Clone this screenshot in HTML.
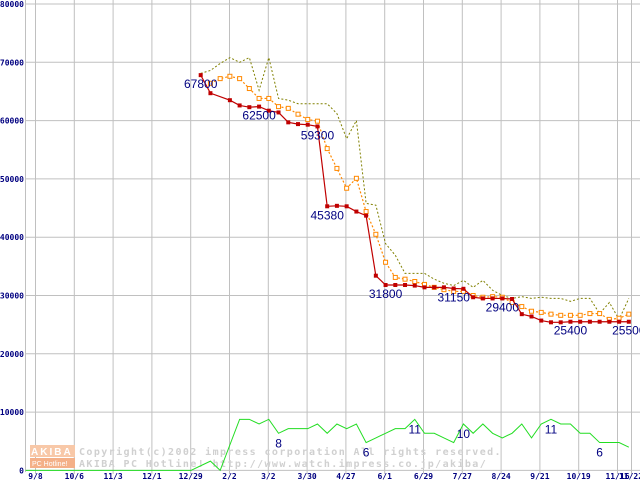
<!DOCTYPE html>
<html><head><meta charset="utf-8"><style>
html,body{margin:0;padding:0;background:#fff;}
svg{display:block;}
.tk{font-family:"DejaVu Sans Mono","Liberation Mono",monospace;font-size:8px;font-weight:bold;fill:#000080;}
.dl{font-family:"Liberation Sans",sans-serif;font-size:12px;fill:#000080;}
.wm{font-family:"DejaVu Sans Mono","Liberation Mono",monospace;font-size:10px;font-weight:bold;fill:#d0d0d0;letter-spacing:1.4px;}
</style></head><body>
<svg id="chart" width="640" height="480" xmlns="http://www.w3.org/2000/svg">
<g id="grid"></g>
<g id="wm">
<rect x="30" y="445" width="45" height="12" fill="#f8c8a8"/>
<text x="31" y="455" font-family="Liberation Sans,sans-serif" font-size="10" font-weight="bold" fill="#fff" letter-spacing="2">AKIBA</text>
<rect x="30" y="458" width="45" height="10" fill="#f4b088"/>
<text x="32" y="466" font-family="Liberation Sans,sans-serif" font-size="7" fill="#fff">PC Hotline!</text>
<text class="wm" x="79" y="455">Copyright(c)2002 impress corporation All rights reserved.</text>
<text class="wm" x="79" y="467">AKIBA PC Hotline! http://www.watch.impress.co.jp/akiba/</text>
</g>
<g id="series"></g>
<g id="labels"></g>
</svg>
<script>
const yTicks=[0,10000,20000,30000,40000,50000,60000,70000,80000];
const xTickLabels=["9/8","10/6","11/3","12/1","12/29","2/2","3/2","3/30","4/27","6/1","6/29","7/27","8/24","9/21","10/19","11/16"];
const lowestPrice=[67800,64700,null,63500,62600,62300,62400,61700,61400,59700,59400,59300,59000,45300,45380,45300,44400,43700,33400,31800,31800,31800,31700,31400,31400,31400,31200,31150,29700,29500,29500,29500,29400,26800,26400,25700,25400,25400,25500,25500,25500,25500,25500,25500,25500];
const avgPrice=[null,66400,67200,67600,67200,65500,63800,63800,62400,62100,61100,60200,59900,55200,51800,48400,50100,44400,40500,35700,33100,32800,32400,31900,31400,31000,30700,30700,30000,29700,29800,29700,28800,28100,27300,27100,26800,26600,26600,26600,26900,26900,25900,26100,26800];
const highPrice=[68100,68600,69800,70800,70000,70800,65200,70800,63800,63500,62900,62900,62900,62900,61200,56900,60000,45800,45500,38900,36900,33800,33800,33800,32800,32100,31700,32600,31400,32600,30900,30000,29500,29800,29500,29700,29500,29500,29000,29500,29500,26900,28800,25900,29500];
const shopCount=[0,0,0,0,0,0,0,0,0,0,0,0,0,0,0,0,0,0,1,2,0,5.5,11,11,10,11,8,9,9,9,10,8,10,9,10,6,7,8,9,9,11,8,8,7,6,10,8,10,8,7,8,10,7,10,11,10,10,8,8,6,6,6,5];
const priceLabels=[[0,"67800"],[6,"62500"],[12,"59300"],[13,"45380"],[19,"31800"],[26,"31150"],[31,"29400"],[38,"25400"],[44,"25500"]];
const countLabels=[[26,"8"],[35,"6"],[40,"11"],[45,"10"],[54,"11"],[59,"6"]];

const NS="http://www.w3.org/2000/svg";
const yScale=v=>470.4-v*0.00583;
const xWeek=i=>200.7+i*9.73;
const cScale=c=>470.4-c*4.64;
const xCount=k=>xWeek(k-18);
const xTick=i=>35.5+i*38.8;
function mk(tag,attrs,parent){const e=document.createElementNS(NS,tag);for(const k in attrs)e.setAttribute(k,attrs[k]);parent.appendChild(e);return e;}
const grid=document.getElementById('grid'),ser=document.getElementById('series'),lab=document.getElementById('labels');
yTicks.forEach(v=>{
  const l=mk('line',{x1:25.5,x2:640,y1:yScale(v),y2:yScale(v),stroke:'#c0c0c0','stroke-width':1},grid);
  
  
  const t=mk('text',{x:24,y:yScale(v)+3,'text-anchor':'end',class:'tk'},lab);t.textContent=v;
  
  
});
const ax=mk('line',{x1:25.5,x2:25.5,y1:0,y2:472,stroke:'#c0c0c0'},grid);


xTickLabels.forEach((s,i)=>{
  const l=mk('line',{x1:xTick(i),x2:xTick(i),y1:0,y2:474,stroke:'#c0c0c0'},grid);
  
  
  const t=mk('text',{x:xTick(i),y:479,'text-anchor':'middle',class:'tk'},lab);t.textContent=s;
  
  
});
const le=mk('line',{x1:631.5,x2:631.5,y1:0,y2:474,stroke:'#c0c0c0'},grid);


const te=mk('text',{x:631,y:479,'text-anchor':'middle',class:'tk'},lab);te.textContent="11/22";


function pts(arr,xf,yf){return arr.map((v,i)=>v==null?null:[xf(i),yf(v)]).filter(p=>p);}
function poly(p,attrs,name){const e=mk('polyline',Object.assign({points:p.map(q=>q.join(',')).join(' '),fill:'none'},attrs),ser);
  
  }
poly(pts(shopCount,xCount,cScale),{stroke:'#22dd22','stroke-width':1},'shop-count-line');
poly(pts(highPrice,xWeek,yScale),{stroke:'#808000','stroke-width':1,'stroke-dasharray':'2,2'},'high-price-line');
const ap=pts(avgPrice,i=>xWeek(i),yScale);
poly(ap,{stroke:'#ff8800','stroke-width':1.2,'stroke-dasharray':'2,2'},'avg-price-line');
ap.forEach(p=>{const r=mk('rect',{x:p[0]-2,y:p[1]-2,width:4,height:4,fill:'#fff',stroke:'#ff8800','stroke-width':1},ser);
  
  });
const lp=pts(lowestPrice,xWeek,yScale);
poly(lp,{stroke:'#c00000','stroke-width':1.2},'lowest-price-line');
lp.forEach(p=>{const r=mk('rect',{x:p[0]-2,y:p[1]-2,width:4,height:4,fill:'#c00000'},ser);
  
  });
priceLabels.forEach(([i,s])=>{const t=mk('text',{x:xWeek(i),y:yScale(lowestPrice[i])+13,'text-anchor':'middle',class:'dl'},lab);t.textContent=s;
  
  });
countLabels.forEach(([k,s])=>{const t=mk('text',{x:xCount(k),y:cScale(shopCount[k])+14,'text-anchor':'middle',class:'dl'},lab);t.textContent=s;
  
  });
</script>
</body></html>
